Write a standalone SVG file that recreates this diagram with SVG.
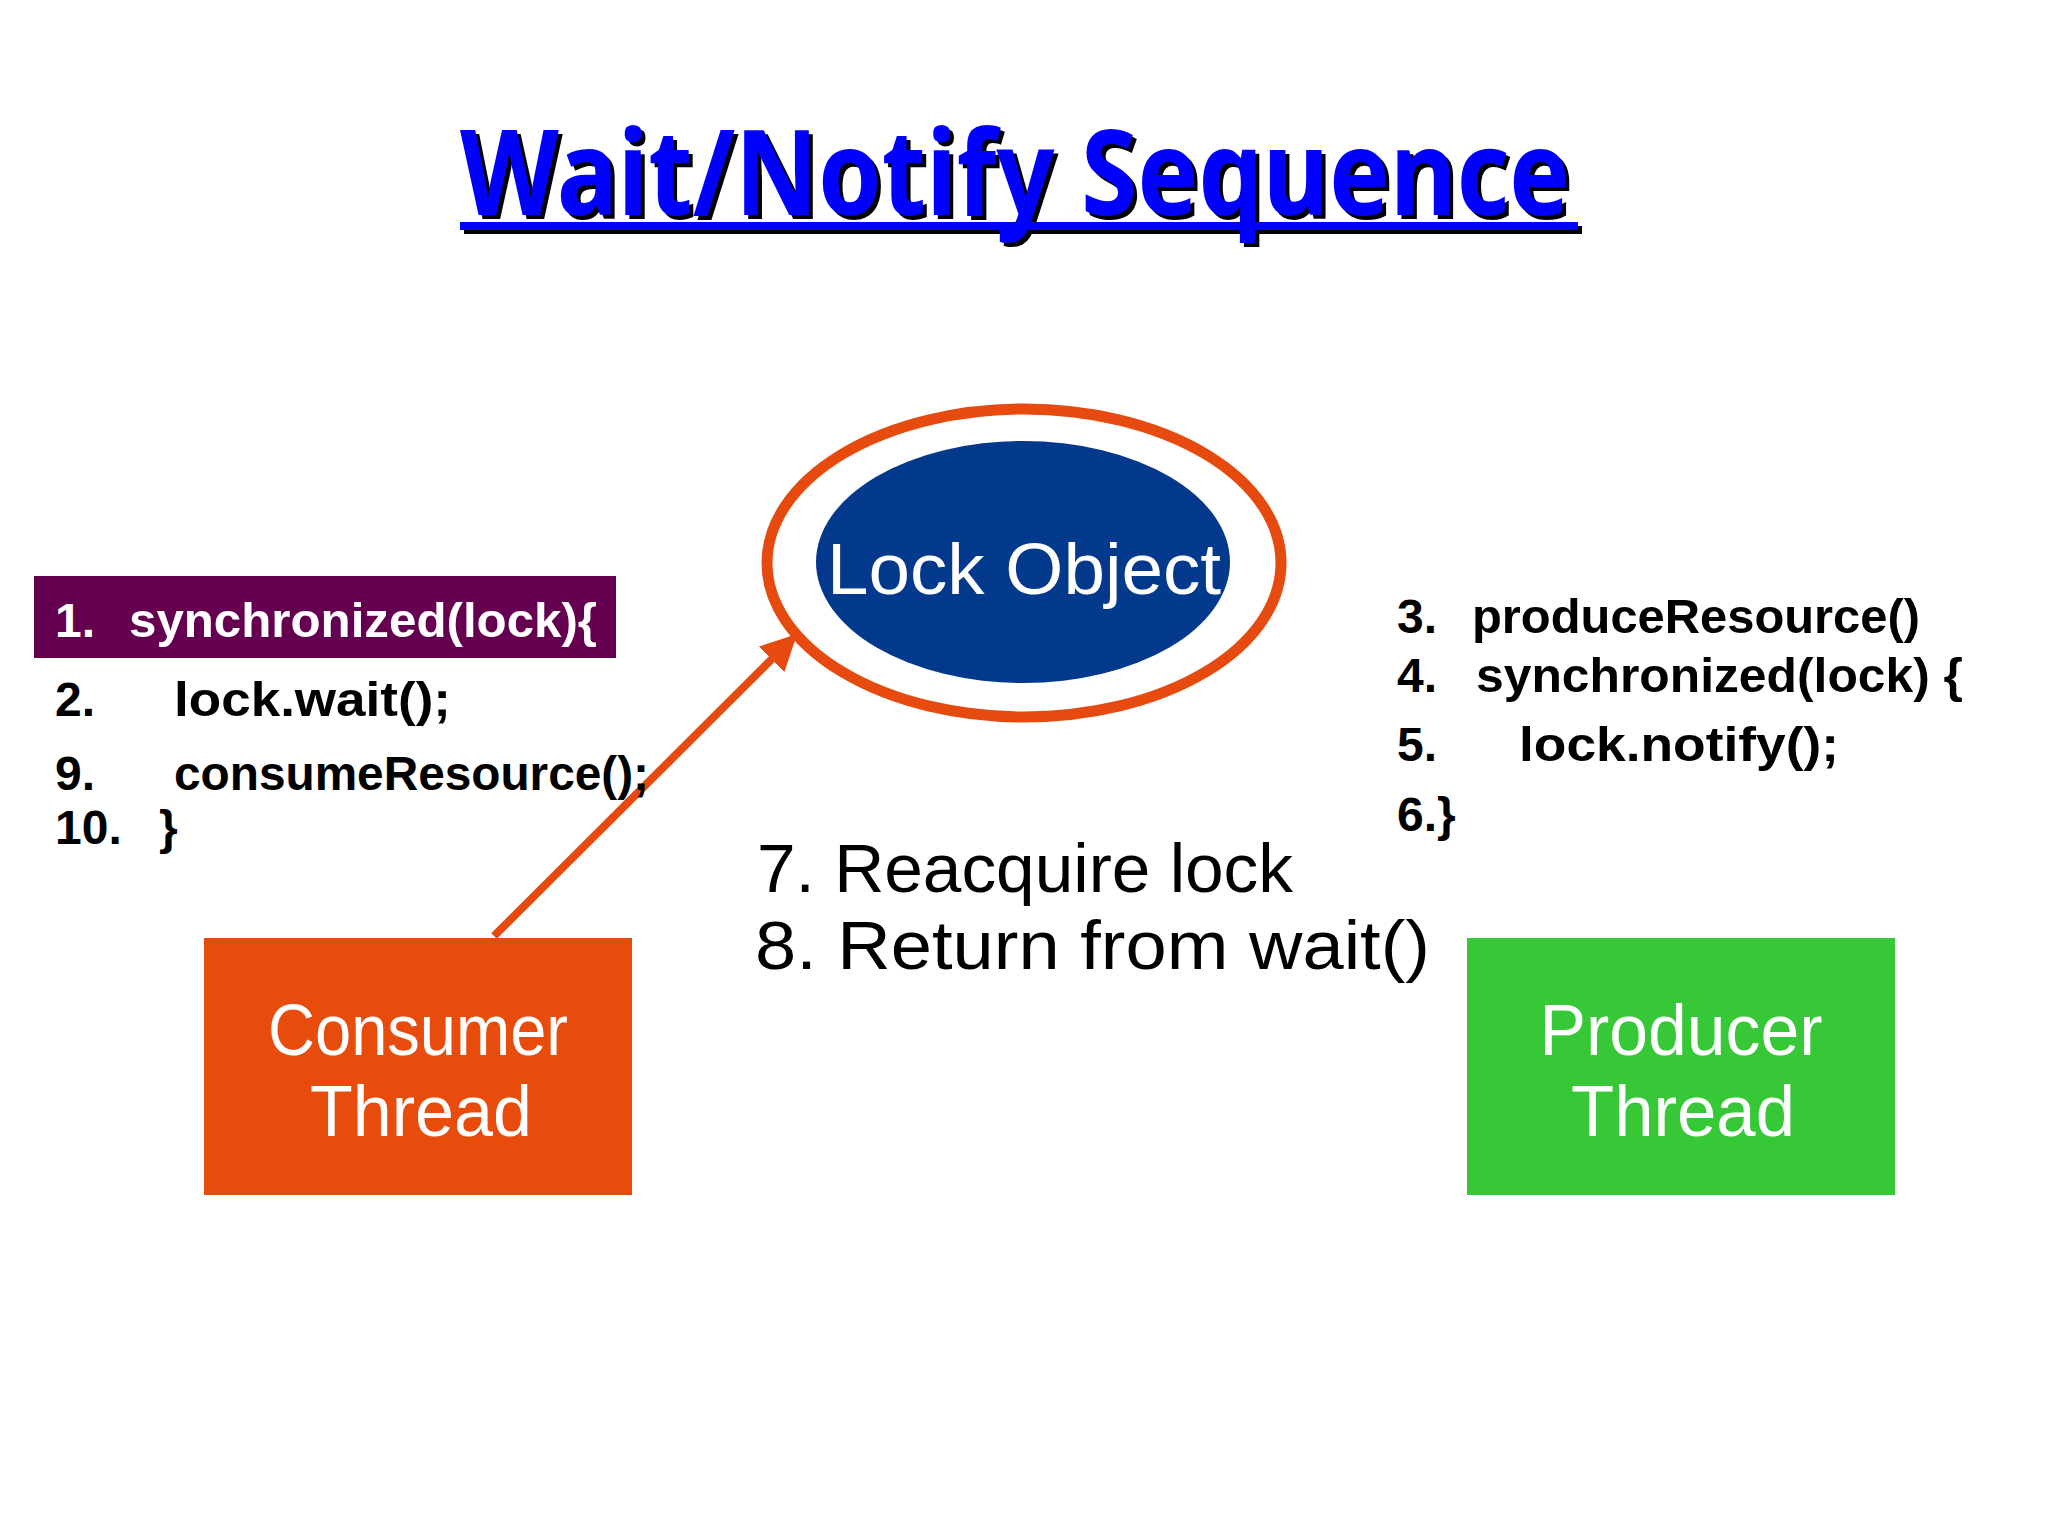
<svg xmlns="http://www.w3.org/2000/svg" width="2048" height="1536" viewBox="0 0 2048 1536">
<style>
.title{font-family:"Noto Sans","DejaVu Sans",sans-serif;font-weight:bold;font-size:118px}
.code{font-family:"Liberation Sans",Arial,sans-serif;font-weight:bold;font-size:48px}
.codeW{fill:#ffffff}
.codeB{fill:#000000}
.mid{font-family:"Liberation Sans",Arial,sans-serif;font-size:68px;fill:#000}
.lbl{font-family:"Liberation Sans",Arial,sans-serif;font-size:72px;fill:#fff}
</style>
<defs>
<marker id="ah" viewBox="0 0 10 10" refX="8" refY="5" markerWidth="4.5" markerHeight="4.5" orient="auto" markerUnits="strokeWidth">
<path d="M0,0 L10,5 L0,10 z" fill="#E64A0F"/>
</marker>
</defs>
<rect width="2048" height="1536" fill="#ffffff"/>

<g id="title">
<text class="title" x="464" y="219" fill="#000" textLength="1110" lengthAdjust="spacingAndGlyphs">Wait/Notify Sequence</text>
<rect x="464" y="226" width="1118" height="8" fill="#000"/>
<text class="title" x="460" y="215" fill="#0000FF" textLength="1110" lengthAdjust="spacingAndGlyphs">Wait/Notify Sequence</text>
<rect x="460" y="222" width="1118" height="8" fill="#0000FF"/>
</g>

<g id="connectors">
<line x1="494" y1="936" x2="792" y2="639" stroke="#E64A0F" stroke-width="8" marker-end="url(#ah)"/>
</g>

<g id="lock-object">
<ellipse cx="1024" cy="563" rx="257" ry="154" fill="#fff" stroke="#E64A0F" stroke-width="11"/>
<ellipse cx="1023" cy="562" rx="207" ry="121" fill="#03398C"/>
<text class="lbl" x="1024" y="594" text-anchor="middle" textLength="394" lengthAdjust="spacingAndGlyphs">Lock Object</text>
</g>

<g id="consumer-code">
<rect x="34" y="576" width="582" height="82" fill="#650051"/>
<text class="code codeW" x="55" y="637">1.</text>
<text class="code codeW" x="129" y="637" textLength="468" lengthAdjust="spacingAndGlyphs">synchronized(lock){</text>
<text class="code codeB" x="55" y="716">2.</text>
<text class="code codeB" x="174" y="716" textLength="277" lengthAdjust="spacingAndGlyphs">lock.wait();</text>
<text class="code codeB" x="55" y="790">9.</text>
<text class="code codeB" x="174" y="790" textLength="475" lengthAdjust="spacingAndGlyphs">consumeResource();</text>
<text class="code codeB" x="55" y="844">10.</text>
<text class="code codeB" x="159" y="844">}</text>
</g>

<g id="producer-code">
<text class="code codeB" x="1397" y="633">3.</text>
<text class="code codeB" x="1472" y="633" textLength="448" lengthAdjust="spacingAndGlyphs">produceResource()</text>
<text class="code codeB" x="1397" y="692">4.</text>
<text class="code codeB" x="1476" y="692" textLength="487" lengthAdjust="spacingAndGlyphs">synchronized(lock) {</text>
<text class="code codeB" x="1397" y="761">5.</text>
<text class="code codeB" x="1519" y="761" textLength="320" lengthAdjust="spacingAndGlyphs">lock.notify();</text>
<text class="code codeB" x="1397" y="831">6.}</text>
</g>

<g id="steps">
<text class="mid" x="757" y="892" textLength="536" lengthAdjust="spacingAndGlyphs">7. Reacquire lock</text>
<text class="mid" x="755" y="969" textLength="675" lengthAdjust="spacingAndGlyphs">8. Return from wait()</text>
</g>

<g id="consumer-thread">
<rect x="204" y="938" width="428" height="257" fill="#E84C0C"/>
<text class="lbl" x="418" y="1055" text-anchor="middle" textLength="300" lengthAdjust="spacingAndGlyphs">Consumer</text>
<text class="lbl" x="421" y="1136" text-anchor="middle" textLength="222" lengthAdjust="spacingAndGlyphs">Thread</text>
</g>

<g id="producer-thread">
<rect x="1467" y="938" width="428" height="257" fill="#37C837"/>
<text class="lbl" x="1681" y="1055" text-anchor="middle" textLength="283" lengthAdjust="spacingAndGlyphs">Producer</text>
<text class="lbl" x="1683" y="1136" text-anchor="middle" textLength="224" lengthAdjust="spacingAndGlyphs">Thread</text>
</g>
</svg>
